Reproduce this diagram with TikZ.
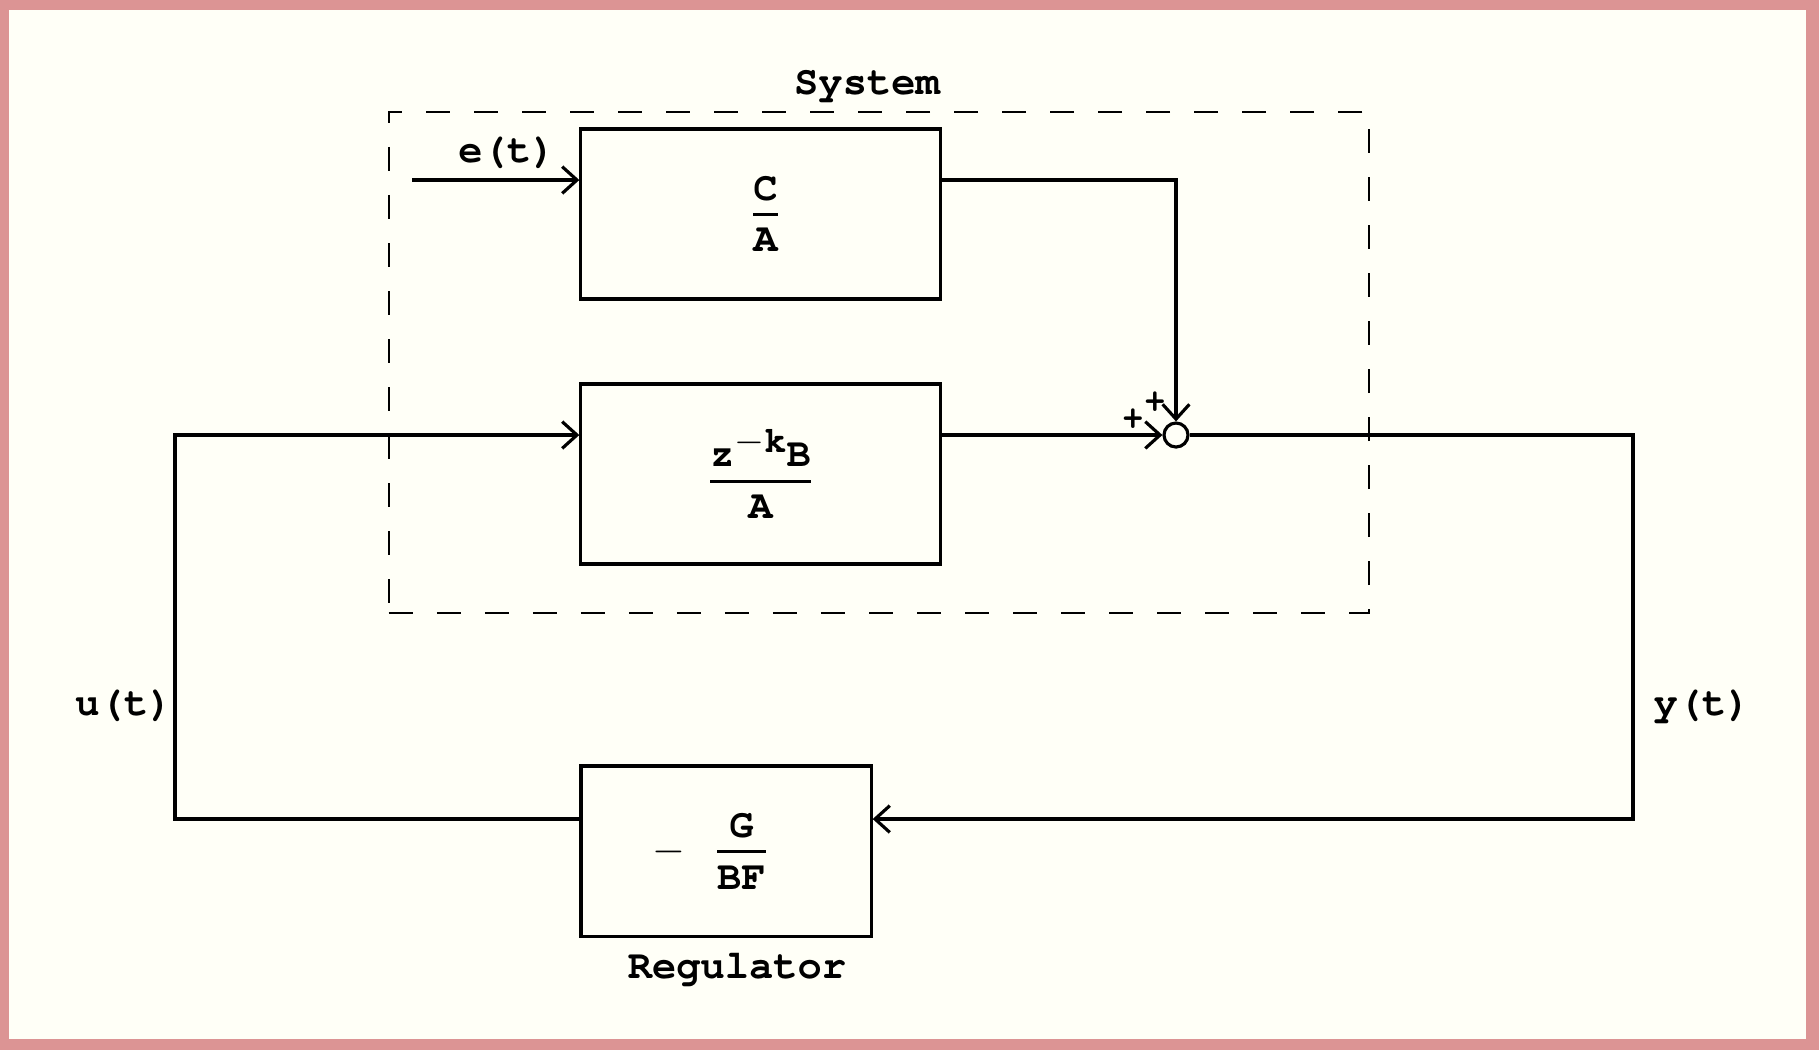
\documentclass[tikz,border=0pt]{standalone}
\usepackage[T1]{fontenc}
\usepackage{courier}
\usepackage{amsmath}
\usepackage{xcolor}
\usetikzlibrary{arrows.meta,positioning}

\definecolor{framepink}{RGB}{220,148,148}
\definecolor{paper}{RGB}{255,255,247}

% fraction with tight, even gaps round the bar
\newcommand{\blockfrac}[2]{$\genfrac{}{}{0.75pt}{1}{\mbox{\rule[-3pt]{0pt}{0pt}#1}}{\mbox{\rule{0pt}{9.5pt}#2}}$}

\begin{document}
\begin{tikzpicture}[
        x=0.01cm, y=-0.01cm,
        >={Straight Barb[length=4.2pt,width=7.6pt]},
        line width=0.9pt,
        every node/.style={font=\ttfamily\bfseries\fontsize{11.5}{13}\selectfont},
        block/.style={draw, line width=0.9pt, inner sep=0pt},
        sysframe/.style={draw, dash pattern=on 0.24cm off 0.24cm, line width=0.6pt, inner sep=0pt},
        sumnode/.style={draw, circle, minimum size=0.24cm, inner sep=0pt},
        sign/.style={font=\ttfamily\bfseries\fontsize{10}{12}\selectfont, inner sep=0pt}
    ]
        % page
        \fill[framepink] (0,0) rectangle (1819,1050);
        \fill[paper] (9,10) rectangle (1806,1039);

        % system frame and blocks
        \node[sysframe, minimum width=9.8cm, minimum height=5.01cm] (sys) at (879,362.5) {};
        \node at (867,85) (syslabel) {System};
        \node[block, minimum width=3.59cm, minimum height=1.70cm] (ca) at (760.5,214)
            {\hspace*{0.1cm}\blockfrac{C}{A}};
        \node[block, minimum width=3.59cm, minimum height=1.80cm] (bz) at (760.5,474)
            {\blockfrac{z\raisebox{4pt}{\fontsize{10.5}{12}\selectfont$-$k}B}{A}};
        \node[sumnode] (sum) at (1176,435) {};
        \node[sign] (p1) at (1133,420) {+};
        \node[sign] (p2) at (1155,403) {+};

        % regulator
        \node[block, minimum width=2.90cm, minimum height=1.70cm] (reg) at (726,851)
            {\hspace*{-0.3cm}$-$\hspace{0.28cm}\blockfrac{G}{BF}};
        \node[below=0.02cm of reg, xshift=0.11cm] (reglabel) {Regulator};

        \coordinate (ein) at (412,180);
        \coordinate (yr) at (1633,819);
        \coordinate (ul) at (175,819);

        \draw[->] (ein) -- (ein -| ca.west);
        \node (elabel) at (507,152) {e(t)};
        \draw[->] (ein -| ca.east) -| (sum.north);
        \draw[->] (sum -| bz.east) -- (sum.west);
        \draw[->] (sum.east) -| (yr) -- (yr -| reg.east);
        \draw[->] (ul -| reg.west) -- (ul) |- (sum -| bz.west);

        \node (ulabel) at (124,705) {u(t)};
        \node (ylabel) at (1702,705) {y(t)};
    \end{tikzpicture}
\end{document}
